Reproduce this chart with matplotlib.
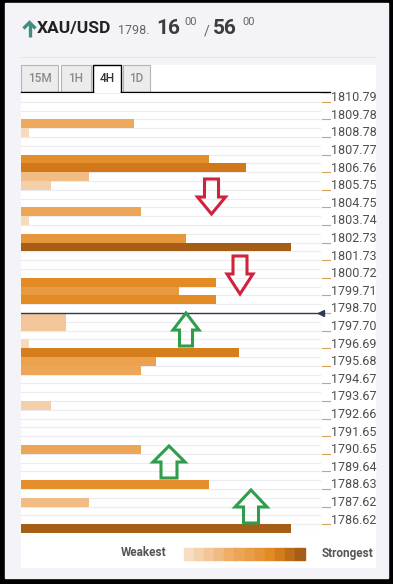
import matplotlib
matplotlib.use("Agg")
import matplotlib.pyplot as plt
from matplotlib.colors import LinearSegmentedColormap
from matplotlib.patches import Rectangle, Polygon
import matplotlib.transforms as mtransforms

plt.rcParams['font.family'] = ['Roboto', 'DejaVu Sans']

# Datos: niveles de precio (etiquetas del eje) y fuerza de confluencia por fila
price_labels = ["1810.79", "1809.78", "1808.78", "1807.77", "1806.76", "1805.75",
                "1804.75", "1803.74", "1802.73", "1801.73", "1800.72", "1799.71",
                "1798.70", "1797.70", "1796.69", "1795.68", "1794.67", "1793.67",
                "1792.66", "1791.65", "1790.65", "1789.64", "1788.63", "1787.62",
                "1786.62"]
n_rows = 50
bar_rows = [3, 4, 7, 8, 9, 10, 13, 14, 16, 17, 21, 22, 23, 25, 26, 28, 29, 30, 31,
            35, 40, 44, 46, 49]
bar_strength = [15, 1, 25, 30, 9, 4, 16, 1, 22, 36, 26, 21, 26, 6, 6, 1, 29, 18, 16,
                4, 16, 25, 9, 36]
current_row = 25
max_strength = 36
tabs = ["15M", "1H", "4H", "1D"]
active_tab = "4H"

cmap = LinearSegmentedColormap.from_list("conf", [
    (0.0, '#f7dec3'), (0.17, '#f2c79a'), (0.4, '#eeaa5e'), (0.58, '#e89a42'),
    (0.75, '#e2891f'), (0.84, '#d0771a'), (1.0, '#a65d16')])

W, H = 393, 584
fig = plt.figure(figsize=(W / 100, H / 100), dpi=100)
fig.patch.set_facecolor('black')

# Fondo (coordenadas en píxeles)
bg = fig.add_axes([0, 0, 1, 1])
bg.set_xlim(0, W)
bg.set_ylim(H, 0)
bg.axis('off')
bg.add_patch(Rectangle((5, 3), 383, 575, color='#f3f3f8'))
bg.plot([21, 375], [57, 57], color='#e4e4ea', lw=0.8)
bg.add_patch(Rectangle((21, 65), 354, 502, color='white'))

# Cabecera
bg.plot([29.5, 29.5], [37, 22.5], color='#3f8f80', lw=2.4, solid_capstyle='butt')
bg.plot([23.5, 29.5, 35.5], [28.5, 22.5, 28.5], color='#3f8f80', lw=2.4,
        solid_joinstyle='miter', solid_capstyle='butt')
bg.text(37, 29, "XAU/USD", fontsize=12.5, fontweight='bold', color='#222222', va='center')
bg.text(118, 30, "1798.", fontsize=9, color='#666666', va='center')
bg.text(156, 29, "16", fontsize=15, fontweight='bold', color='#3c3c3c', va='center')
bg.text(184, 22, "00", fontsize=8, color='#666666', va='center')
bg.text(204, 31, "/", fontsize=10, color='#666666', va='center')
bg.text(213, 29, "56", fontsize=15, fontweight='bold', color='#3c3c3c', va='center')
bg.text(242, 22, "00", fontsize=8, color='#666666', va='center')

# Pestañas
tab_x = [(21, 58), (61, 91), (93, 121), (123, 150)]
for name, (x0, x1) in zip(tabs, tab_x):
    if name == active_tab:
        bg.add_patch(Rectangle((x0, 65), x1 - x0, 27, facecolor='white', edgecolor='none'))
        bg.plot([x0, x0, x1, x1], [92, 65, 65, 92], color='black', lw=1)
        bg.text((x0 + x1) / 2, 79, name, fontsize=8.5, fontweight='medium',
                color='#333333', ha='center', va='center')
    else:
        bg.add_patch(Rectangle((x0, 65), x1 - x0, 27, facecolor='#ececec', edgecolor='#b5b5b5', lw=0.8))
        bg.text((x0 + x1) / 2, 79, name, fontsize=8.5, fontweight='medium',
                color='#8a8a8a', ha='center', va='center')
bg.plot([21, 93], [92, 92], color='black', lw=1)
bg.plot([121, 330], [92, 92], color='black', lw=1)

# Leyenda
bg.text(166, 553, "Weakest", fontsize=8.5, fontweight='bold', color='#555555', ha='right', va='center')
bg.text(322, 553, "Strongest", fontsize=8.5, fontweight='bold', color='#555555', ha='left', va='center')
n_seg = 12
seg_w = (305 - 184) / n_seg
for i in range(n_seg):
    bg.add_patch(Rectangle((184 + i * seg_w, 548), seg_w + 0.3, 12,
                           color=cmap(i / (n_seg - 1))))

# Gráfico de barras
top_px, row_h = 92.9, 8.8
left_px, right_px = 21, 321
ax = fig.add_axes([left_px / W, (H - (top_px + n_rows * row_h)) / H,
                   (right_px - left_px) / W, n_rows * row_h / H])
ax.set_facecolor('none')
ax.set_xlim(0, max_strength * 300 / 270)
ax.set_ylim(n_rows, 0)
ax.axis('off')
for k in range(n_rows + 1):
    ax.axhline(k, color='#ebebf0', lw=0.8, zorder=0)
ax.barh(bar_rows, bar_strength, height=1, align='edge',
        color=[cmap(s / max_strength) for s in bar_strength], zorder=2)

trans = mtransforms.blended_transform_factory(ax.transAxes, ax.transData)
for i, lab in enumerate(price_labels):
    k = 2 * i
    ax.text(1.034, k + 0.55, lab, transform=trans, fontsize=9, color='#4d4d4d',
            va='center', ha='left', clip_on=False)
    ax.plot([1.004, 1.03], [k + 1, k + 1], transform=trans, color='#d9a35a',
            lw=0.8, clip_on=False)

ax.axhline(current_row, color='#2b3a55', lw=1, zorder=3)
ax.plot([1.0], [current_row], transform=trans, marker='<', color='#2b3a55',
        markersize=5, clip_on=False, zorder=4)

# Flechas
over = fig.add_axes([0, 0, 1, 1])
over.set_xlim(0, W)
over.set_ylim(H, 0)
over.axis('off')


def flecha(cx, y_tail, y_base, y_tip, sw, hw, color):
    pts = [(cx - sw, y_tail), (cx + sw, y_tail), (cx + sw, y_base), (cx + hw, y_base),
           (cx, y_tip), (cx - hw, y_base), (cx - sw, y_base)]
    over.add_patch(Polygon(pts, closed=True, fill=False, edgecolor=color, lw=2.2,
                           joinstyle='miter'))


red, green = '#d0223c', '#2e9e4c'
flecha(211.5, 179, 197, 214, 7, 14, red)
flecha(240, 256, 274, 294, 7, 13, red)
flecha(186, 346, 330, 313, 6.5, 13, green)
flecha(169, 478, 462, 446, 8, 16, green)
flecha(251, 523, 507, 490, 7.5, 16, green)

fig.savefig("out.png", dpi=100, facecolor=fig.get_facecolor())
